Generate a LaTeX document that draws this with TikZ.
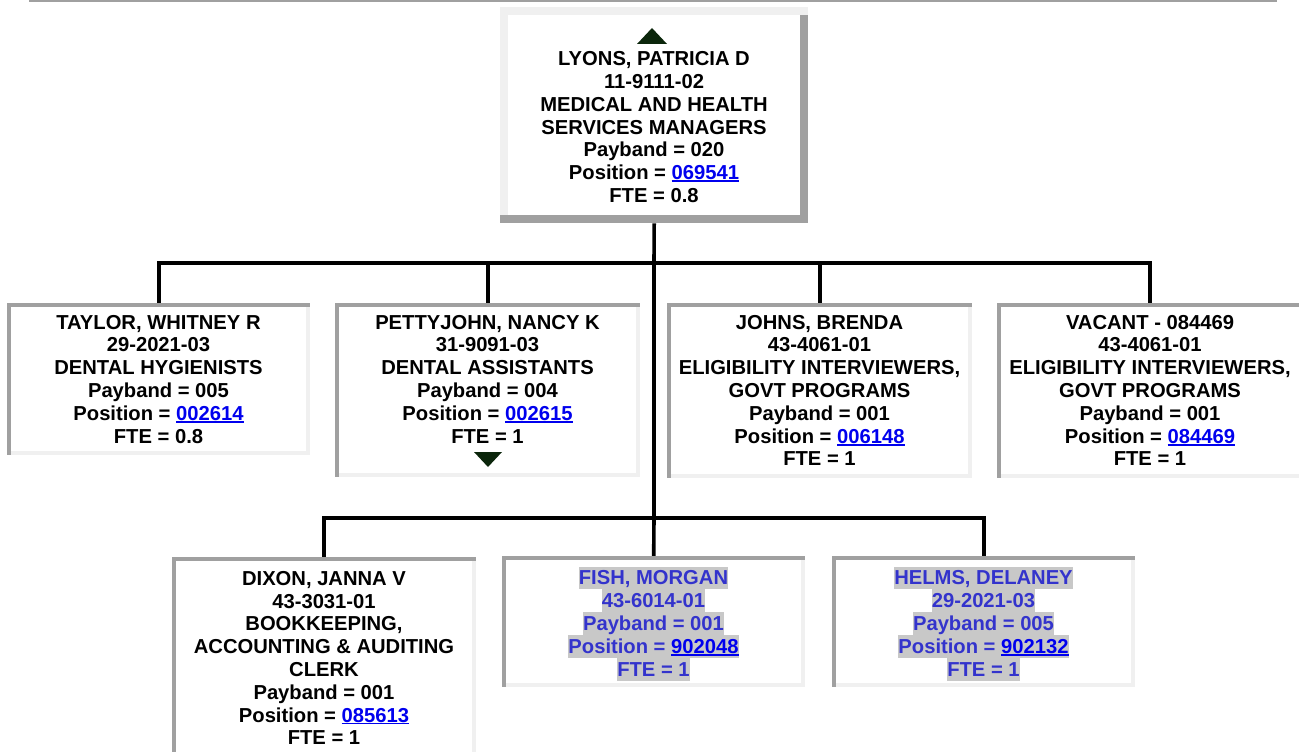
\documentclass[tikz,border=0pt]{standalone}
\usepackage{fontspec}
\setmainfont{Liberation Sans}
\definecolor{dk}{HTML}{A0A0A0}
\definecolor{lt}{HTML}{F0F0F0}
\definecolor{lnkblue}{HTML}{0000EE}
\definecolor{vac}{HTML}{3333CC}
\definecolor{hl}{HTML}{C8C8C8}
\definecolor{tri}{HTML}{0B260B}
\newcommand\Lk[1]{{\color{lnkblue}\setbox0\hbox{#1}\rlap{\rule[-2.4pt]{\wd0}{1.7pt}}\box0}}
\newcommand\St{\rule[-4.4pt]{0pt}{22.8pt}}
\newcommand\Hl[1]{{\setlength\fboxsep{0pt}\colorbox{hl}{\St#1}}}
% inset border: dark top/left, light bottom/right
\newcommand\InBdr[2]{%
  \fill[lt] (#1.south west) rectangle ([shift={(0pt,#2)}]#1.south east);
  \fill[lt] (#1.south east) rectangle ([shift={(-#2,0pt)}]#1.north east);
  \fill[dk] (#1.north west) rectangle ([shift={(0pt,-#2)}]#1.north east);
  \fill[dk] (#1.north west) rectangle ([shift={(#2,0pt)}]#1.south west);}
% outset border: light top/left, dark bottom/right
\newcommand\OutBdr[2]{%
  \fill[lt] (#1.north west) rectangle ([shift={(#2,0pt)}]#1.south west);
  \fill[dk] (#1.north east) rectangle ([shift={(-#2,0pt)}]#1.south east);
  \fill[lt] (#1.north west) rectangle ([shift={(0pt,-#2)}]#1.north east);
  \fill[dk] (#1.south west) rectangle ([shift={(0pt,#2)}]#1.south east);}
\tikzset{
  box/.style={rectangle, fill=white, inner sep=0pt, anchor=north west},
  txt/.style={align=center, inner sep=0pt, font=\fontsize{20.2}{22.8}\selectfont\bfseries},
  conn/.style={line width=3.6pt, black},
}
\begin{document}
\begin{tikzpicture}[x=1pt,y=-1pt]
\useasboundingbox (0,0) rectangle (1299,752);
\draw[dk, line width=2pt] (29,1.5) -- (1277,1.5);

% boxes (nodes)
\node[box, minimum width=308pt, minimum height=216pt] (b-lyons) at (500,7) {};
\node[box, minimum width=303pt, minimum height=152pt] (b-taylor) at (7,303) {};
\node[box, minimum width=305pt, minimum height=174pt] (b-petty) at (335,303) {};
\node[box, minimum width=305pt, minimum height=175pt] (b-johns) at (667,303) {};
\node[box, minimum width=306pt, minimum height=175pt] (b-vacant) at (997,303) {};
\node[box, minimum width=304pt, minimum height=203pt] (b-dixon) at (172,557) {};
\node[box, minimum width=303pt, minimum height=131pt] (b-fish) at (502,556) {};
\node[box, minimum width=303pt, minimum height=131pt] (b-helms) at (832,556) {};

% connectors
\coordinate (j1) at (654,263);
\coordinate (j2) at (654,518);
\draw[conn] (b-lyons.south) -- (j1) -- (j2);
\draw[conn] (b-taylor.north) -- (j1 -| b-taylor.north) -- (j1 -| b-vacant.north) -- (b-vacant.north);
\draw[conn] (j1 -| b-petty.north) -- (b-petty.north);
\draw[conn] (j1 -| b-johns.north) -- (b-johns.north);
\draw[conn] (b-dixon.north) -- (j2 -| b-dixon.north) -- (j2 -| b-helms.north) -- (b-helms.north);
\draw[conn] (j2) -- (b-fish.north);

% redraw white boxes over connector ends, then borders
\foreach \n in {b-lyons,b-taylor,b-petty,b-johns,b-vacant,b-dixon,b-fish,b-helms}{
  \fill[white] (\n.north west) rectangle (\n.south east);}
\OutBdr{b-lyons}{8pt}
\foreach \n in {b-taylor,b-petty,b-johns,b-vacant,b-dixon,b-fish,b-helms}{\InBdr{\n}{4pt}}

% triangles
\fill[tri] (637,44) -- (652,28) -- (667,44) -- cycle;
\fill[tri] (474,452) -- (502,452) -- (488,467) -- cycle;

% texts
\node[txt] (t-lyons) at (654,127) {\St LYONS, PATRICIA D\\11-9111-02\\MEDICAL AND HEALTH\\SERVICES MANAGERS\\Payband = 020\\Position = \Lk{069541}\\FTE = 0.8\St};
\node[txt] (t-taylor) at (158.5,379) {\St TAYLOR, WHITNEY R\\29-2021-03\\DENTAL HYGIENISTS\\Payband = 005\\Position = \Lk{002614}\\FTE = 0.8\St};
\node[txt] (t-petty) at (487.5,379) {\St PETTYJOHN, NANCY K\\31-9091-03\\DENTAL ASSISTANTS\\Payband = 004\\Position = \Lk{002615}\\FTE = 1\St};
\node[txt] (t-johns) at (819.5,390.5) {\St JOHNS, BRENDA\\43-4061-01\\ELIGIBILITY INTERVIEWERS,\\GOVT PROGRAMS\\Payband = 001\\Position = \Lk{006148}\\FTE = 1\St};
\node[txt] (t-vacant) at (1150,390.5) {\St VACANT - 084469\\43-4061-01\\ELIGIBILITY INTERVIEWERS,\\GOVT PROGRAMS\\Payband = 001\\Position = \Lk{084469}\\FTE = 1\St};
\node[txt] (t-dixon) at (324,658) {\St DIXON, JANNA V\\43-3031-01\\BOOKKEEPING,\\ACCOUNTING \& AUDITING\\CLERK\\Payband = 001\\Position = \Lk{085613}\\FTE = 1\St};
\node[txt, text=vac] (t-fish) at (653.5,623.5) {\Hl{FISH, MORGAN}\\\Hl{43-6014-01}\\\Hl{Payband = 001}\\\Hl{Position = \Lk{902048}}\\\Hl{FTE = 1}};
\node[txt, text=vac] (t-helms) at (983.5,623.5) {\Hl{HELMS, DELANEY}\\\Hl{29-2021-03}\\\Hl{Payband = 005}\\\Hl{Position = \Lk{902132}}\\\Hl{FTE = 1}};
\end{tikzpicture}
\end{document}
